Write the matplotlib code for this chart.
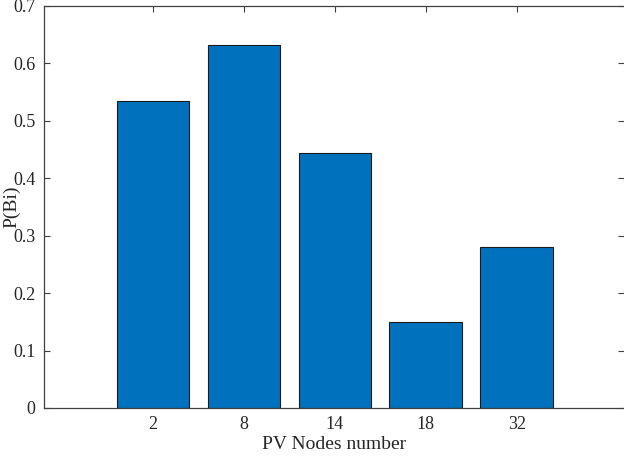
import matplotlib
matplotlib.use("Agg")
import matplotlib.pyplot as plt
import numpy as np

categories = ["2", "8", "14", "18", "32"]
values = [0.535, 0.632, 0.444, 0.149, 0.280]

plt.rcParams['font.family'] = ['Liberation Serif', 'DejaVu Serif']

fig = plt.figure(figsize=(6.24, 4.59), dpi=100)
ax = fig.add_axes([44/624, 1-408/459, 580/624, 402/459])

pos = np.arange(1, len(categories) + 1)
ax.bar(pos, values, width=0.8, color='#0072BD', edgecolor='#1a1a1a', linewidth=0.8, zorder=2)

ax.set_xlim(-0.2, 6.18)
ax.set_ylim(0, 0.7)
ax.set_xticks(pos)
ax.set_xticklabels(categories)
ax.set_yticks(np.arange(0, 0.71, 0.1))
ax.set_yticklabels(["0", "0.1", "0.2", "0.3", "0.4", "0.5", "0.6", "0.7"])

ax.tick_params(direction='in', length=4, width=0.8, colors='#404040', labelcolor='#262626',
               labelsize=13, top=True, right=True, pad=6)
for s in ax.spines.values():
    s.set_color('#404040')
    s.set_linewidth(0.9)
ax.spines['right'].set_visible(False)

ax.set_xlabel("PV Nodes number", fontsize=14, color='#262626', labelpad=2)
ax.set_ylabel("P(Bi)", fontsize=14, color='#262626')
ax.yaxis.set_label_coords(-24/580, 0.5)

fig.savefig("out.png", dpi=100)
